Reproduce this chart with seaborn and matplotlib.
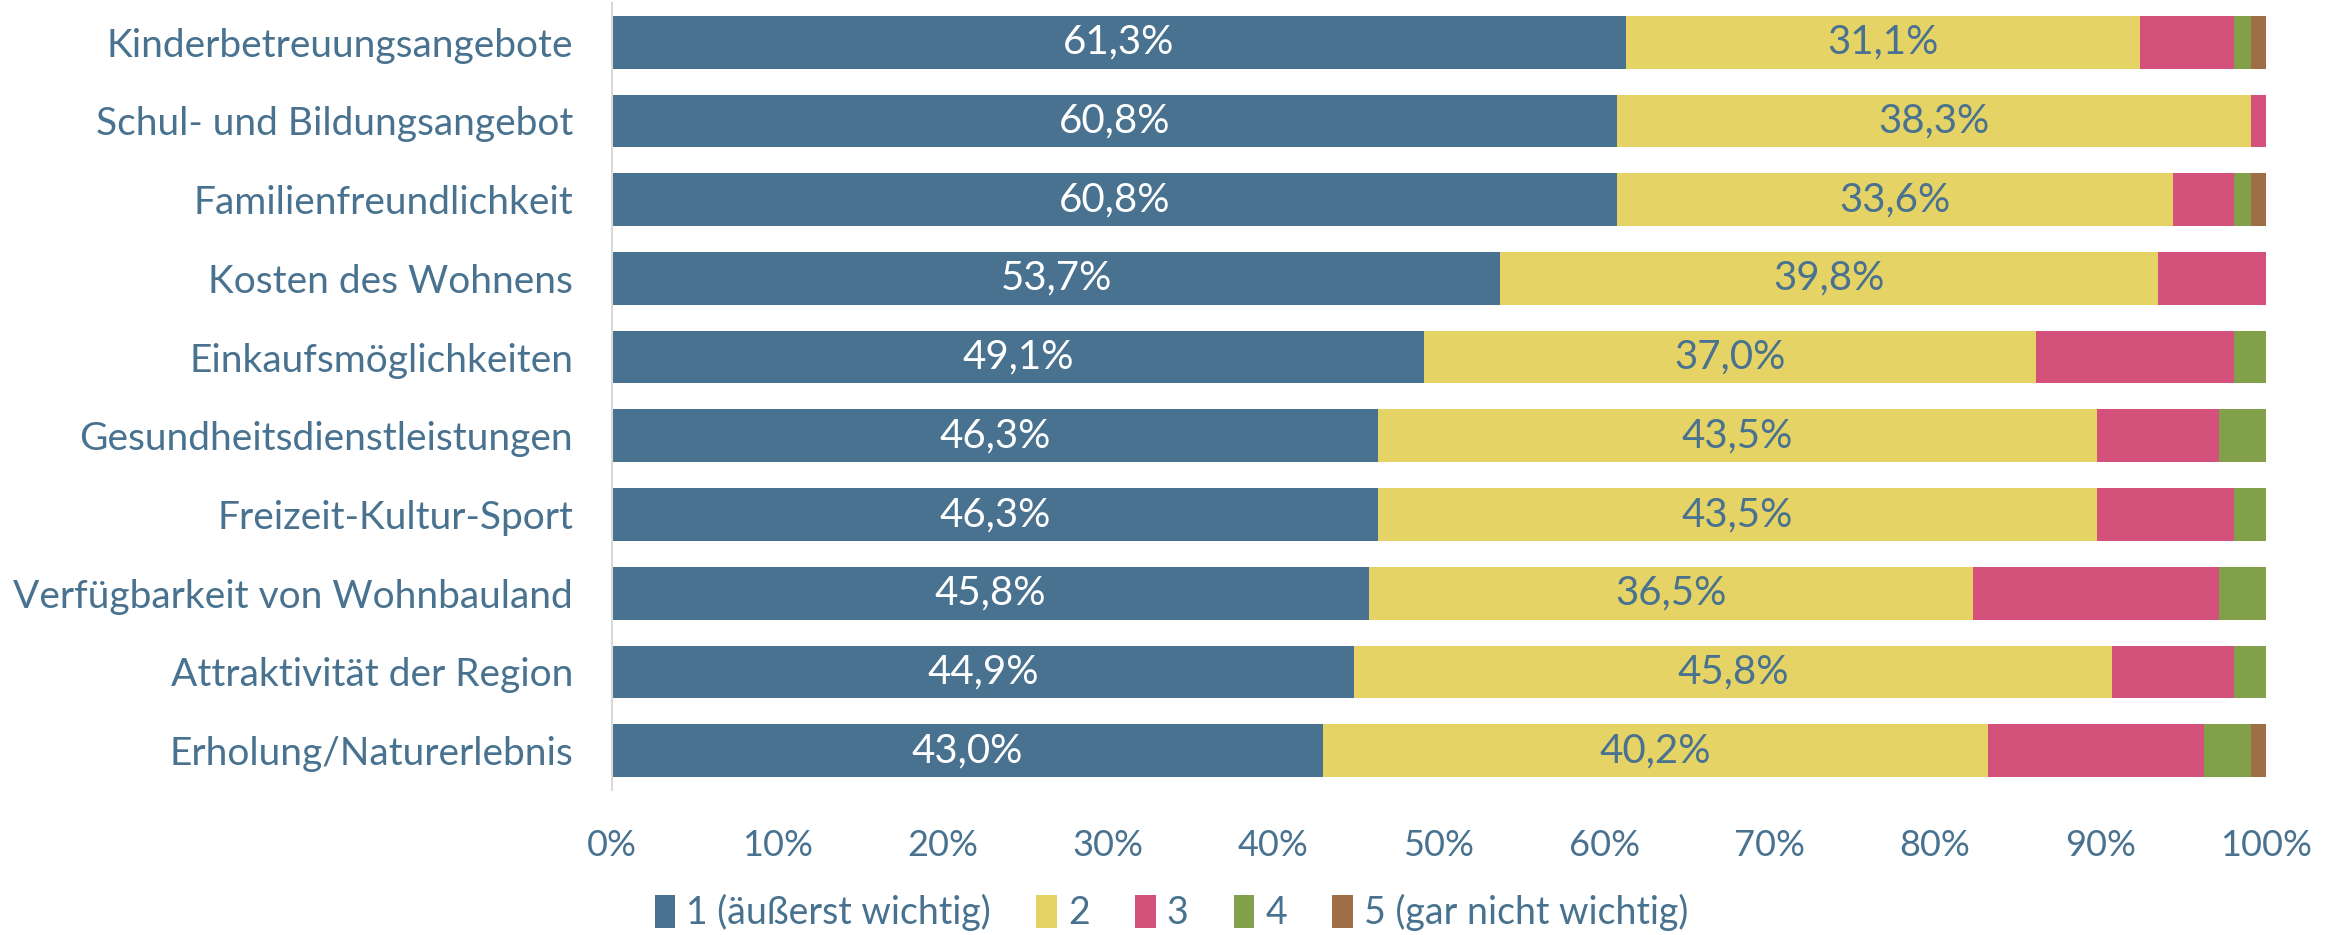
import matplotlib
matplotlib.use("Agg")
import matplotlib.pyplot as plt
import seaborn as sns
import numpy as np
import pandas as pd
from matplotlib.patches import Patch

categories = [
    "Kinderbetreuungsangebote",
    "Schul- und Bildungsangebot",
    "Familienfreundlichkeit",
    "Kosten des Wohnens",
    "Einkaufsmöglichkeiten",
    "Gesundheitsdienstleistungen",
    "Freizeit-Kultur-Sport",
    "Verfügbarkeit von Wohnbauland",
    "Attraktivität der Region",
    "Erholung/Naturerlebnis",
]
s1 = [61.3, 60.8, 60.8, 53.7, 49.1, 46.3, 46.3, 45.8, 44.9, 43.0]
s2 = [31.1, 38.3, 33.6, 39.8, 37.0, 43.5, 43.5, 36.5, 45.8, 40.2]
s3 = [5.7, 0.9, 3.7, 6.5, 12.0, 7.4, 8.3, 14.9, 7.4, 13.1]
s4 = [1.0, 0.0, 1.0, 0.0, 1.9, 2.8, 1.9, 2.8, 1.9, 2.8]
s5 = [0.9, 0.0, 0.9, 0.0, 0.0, 0.0, 0.0, 0.0, 0.0, 0.9]
series_names = ["1 (äußerst wichtig)", "2", "3", "4", "5 (gar nicht wichtig)"]
x_ticks = [0, 10, 20, 30, 40, 50, 60, 70, 80, 90, 100]

colors = ["#48728F", "#E6D366", "#D3517A", "#82A049", "#9E6F45"]
text_blue = "#48728F"

sns.set_theme(style="white")
plt.rcParams["font.family"] = ["Lato", "DejaVu Sans"]
plt.rcParams["font.weight"] = "normal"

series = [s1, s2, s3, s4, s5]
df = pd.DataFrame({"Kategorie": categories})
cum = np.zeros(len(categories))
cums = []
for s in series:
    cum = cum + np.array(s)
    cums.append(cum.copy())

fig = plt.figure(figsize=(23.43, 9.35), dpi=100)
ax = fig.add_axes([0.2612, 0.155, 0.967 - 0.2612, 0.842])

for k in range(len(series) - 1, -1, -1):
    df["wert"] = cums[k]
    sns.barplot(data=df, x="wert", y="Kategorie", orient="h", color=colors[k],
                width=0.67, ax=ax, saturation=1, linewidth=0)

for i in range(len(categories)):
    ax.text(s1[i] / 2, i, f"{s1[i]:.1f}%".replace(".", ","), ha="center", va="center",
            color="white", fontsize=29)
    ax.text(s1[i] + s2[i] / 2, i, f"{s2[i]:.1f}%".replace(".", ","), ha="center", va="center",
            color=text_blue, fontsize=29)

ax.set_xlim(0, 100)
ax.set_ylim(len(categories) - 0.5, -0.5)
ax.set_xticks(x_ticks)
ax.set_xticklabels([f"{t}%" for t in x_ticks])
ax.set_xlabel("")
ax.set_ylabel("")
ax.tick_params(axis="x", length=0, pad=28, labelsize=26, labelcolor=text_blue)
ax.tick_params(axis="y", length=0, pad=28, labelsize=28, labelcolor=text_blue)
for sp in ["top", "right", "bottom"]:
    ax.spines[sp].set_visible(False)
ax.spines["left"].set_color("#D9D9D9")
ax.spines["left"].set_linewidth(1.5)

handles = [Patch(facecolor=c, edgecolor="none") for c in colors]
leg = fig.legend(handles, series_names, loc="center", bbox_to_anchor=(0.5, 0.024), ncol=5,
                 frameon=False, fontsize=27, handlelength=0.55, handleheight=1.0,
                 handletextpad=0.3, columnspacing=1.2)
for t in leg.get_texts():
    t.set_color(text_blue)

fig.savefig("out.png", dpi=100)
